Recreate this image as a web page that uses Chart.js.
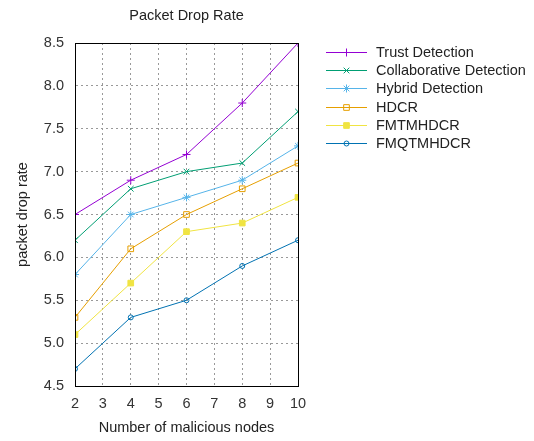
<!DOCTYPE html>
<html lang="en">
<head>
  <meta charset="UTF-8">
  <title>Packet Drop Rate</title>
  <style>
    body {
      margin: 0;
      background-color: white;
    }
    .container {
      width: 534px;
      height: 441px;
      position: relative;
    }
  </style>
  <script src="https://cdn.jsdelivr.net/npm/chart.js"></script>
</head>
<body>
  <div class="container">
    <canvas id="dropChart" width="534" height="441"></canvas>
  </div>

  <script>
    // chart data
    const nodes = [2, 4, 6, 8, 10];
    const trustDetection = [6.5, 6.9, 7.2, 7.8, 8.5];
    const collaborativeDetection = [6.2, 6.8, 7.0, 7.1, 7.7];
    const hybridDetection = [5.8, 6.5, 6.7, 6.9, 7.3];
    const hdcr = [5.3, 6.1, 6.5, 6.8, 7.1];
    const fmtmhdcr = [5.1, 5.7, 6.3, 6.4, 6.7];
    const fmqtmhdcr = [4.7, 5.3, 5.5, 5.9, 6.2];

    const seriesNames = ['Trust Detection', 'Collaborative Detection', 'Hybrid Detection', 'HDCR', 'FMTMHDCR', 'FMQTMHDCR'];
    const seriesValues = [trustDetection, collaborativeDetection, hybridDetection, hdcr, fmtmhdcr, fmqtmhdcr];
    const colors = ['#9400d3', '#009e73', '#56b4e9', '#e69f00', '#f0e442', '#0072b2'];
    const markers = ['cross', 'crossRot', 'star', 'rect', 'rect', 'circle'];
    const markerFill = [false, false, false, false, true, false];
    const markerSize = [4, 4, 4, 4, 4, 2.5];

    const FONT = 'Arial, "Liberation Sans", sans-serif';
    const FONT_SIZE = 14.5;

    const datasets = seriesNames.map((name, i) => ({
      label: name,
      data: nodes.map((x, j) => ({ x: x, y: seriesValues[i][j] })),
      borderColor: colors[i],
      backgroundColor: markerFill[i] ? colors[i] : 'rgba(0,0,0,0)',
      pointBorderColor: colors[i],
      pointStyle: markers[i],
      pointRadius: markerSize[i],
      pointBorderWidth: 1,
      borderWidth: 1,
      tension: 0,
      fill: false
    }));

    // title centred over the plot, plus a frame on all four sides like gnuplot
    const framePlugin = {
      id: 'frame',
      afterDraw(chart) {
        const { ctx, chartArea: a } = chart;
        ctx.save();
        ctx.strokeStyle = '#000';
        ctx.lineWidth = 1;
        ctx.strokeRect(Math.round(a.left) + 0.5, Math.round(a.top) + 0.5,
          Math.round(a.right - a.left), Math.round(a.bottom - a.top));
        ctx.fillStyle = '#222';
        ctx.font = FONT_SIZE + 'px ' + FONT;
        ctx.textAlign = 'center';
        ctx.textBaseline = 'middle';
        ctx.fillText('Packet Drop Rate', (a.left + a.right) / 2, 16);
        ctx.restore();
      }
    };

    // legend to the right, key lines with marker in the middle
    const keyPlugin = {
      id: 'key',
      afterDraw(chart) {
        const ctx = chart.ctx;
        const x0 = 326, x1 = 367, tx = 376, y0 = 52, dy = 18.2;
        ctx.save();
        chart.data.datasets.forEach((ds, i) => {
          const y = Math.round(y0 + i * dy);
          ctx.strokeStyle = ds.borderColor;
          ctx.lineWidth = 1;
          ctx.beginPath();
          ctx.moveTo(x0, y + 0.5);
          ctx.lineTo(x1, y + 0.5);
          ctx.stroke();
          ctx.fillStyle = ds.backgroundColor;
          ctx.strokeStyle = ds.pointBorderColor;
          Chart.helpers.drawPoint(ctx, {
            pointStyle: ds.pointStyle,
            radius: ds.pointRadius,
            rotation: 0,
            borderWidth: 1
          }, (x0 + x1) / 2, y + 0.5);
          ctx.fillStyle = '#222';
          ctx.font = FONT_SIZE + 'px ' + FONT;
          ctx.textBaseline = 'middle';
          ctx.fillText(ds.label, tx, y + 1);
        });
        ctx.restore();
      }
    };

    const ctx = document.getElementById('dropChart').getContext('2d');
    new Chart(ctx, {
      type: 'line',
      data: { datasets: datasets },
      options: {
        responsive: false,
        animation: false,
        layout: {
          padding: { left: 10, right: 236, top: 43, bottom: 0 }
        },
        plugins: {
          legend: { display: false },
          tooltip: { enabled: false },
          title: { display: false }
        },
        scales: {
          x: {
            type: 'linear',
            min: 2,
            max: 10,
            ticks: {
              stepSize: 1,
              color: '#333',
              font: { family: FONT, size: FONT_SIZE },
              padding: 9
            },
            grid: {
              color: '#999',
              drawTicks: false,
              borderDash: [2, 3]
            },
            border: { color: '#000', dash: [2, 3] },
            title: {
              display: true,
              text: 'Number of malicious nodes',
              color: '#222',
              font: { family: FONT, size: FONT_SIZE },
              padding: { top: 8 }
            },
            afterFit(scale) { scale.height = 55; }
          },
          y: {
            min: 4.5,
            max: 8.5,
            ticks: {
              stepSize: 0.5,
              color: '#333',
              font: { family: FONT, size: FONT_SIZE },
              padding: 11,
              callback: (v) => v.toFixed(1)
            },
            grid: {
              color: '#999',
              drawTicks: false,
              borderDash: [2, 3]
            },
            border: { color: '#000', dash: [2, 3] },
            title: {
              display: true,
              text: 'packet drop rate',
              color: '#222',
              font: { family: FONT, size: FONT_SIZE },
              padding: { bottom: 6 }
            },
            afterFit(scale) { scale.width = 65; }
          }
        }
      },
      plugins: [framePlugin, keyPlugin]
    });
  </script>
</body>
</html>
